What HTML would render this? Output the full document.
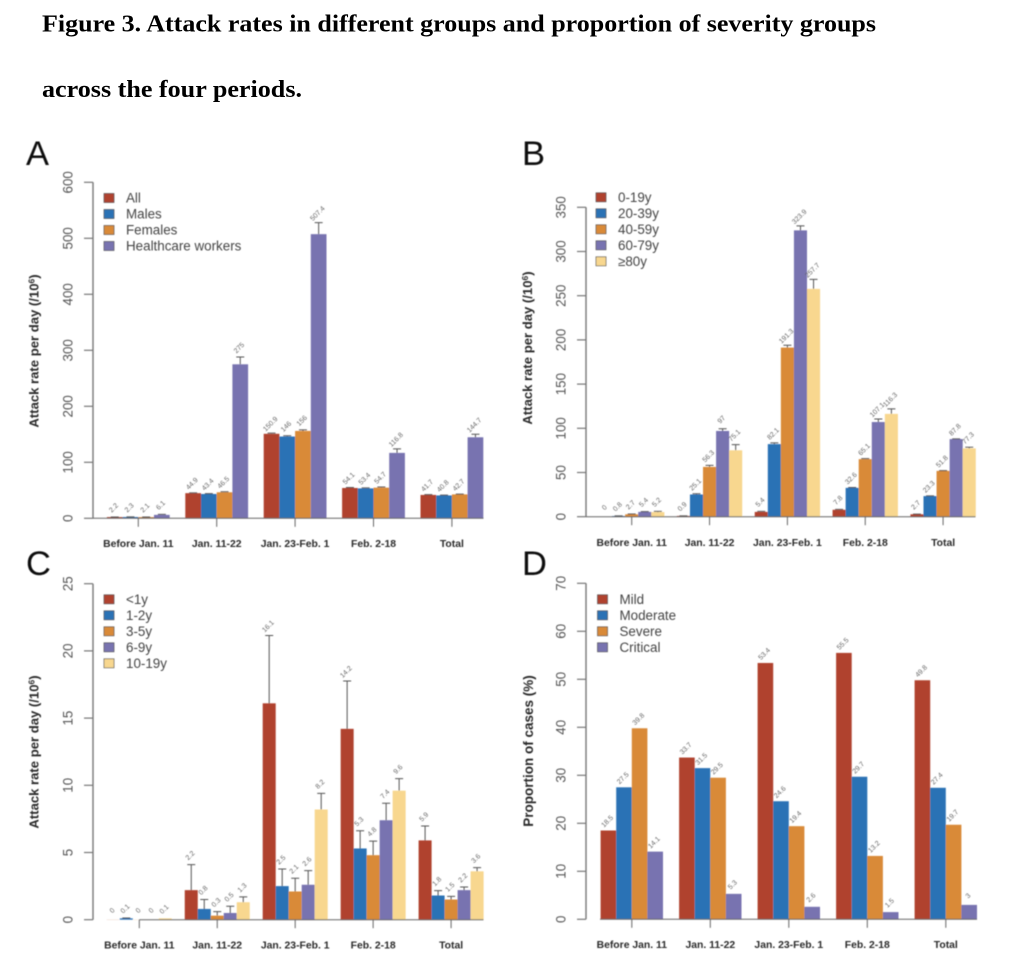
<!DOCTYPE html>
<html lang="en">
<head>
<meta charset="utf-8">
<title>Figure 3. Attack rates</title>
<style>
html,body{margin:0;padding:0;background:#fff;}
body{width:1024px;height:974px;overflow:hidden;}
svg{display:block;font-family:"Liberation Sans",sans-serif;}
.title{font-family:"Liberation Serif",serif;font-weight:bold;font-size:24.5px;fill:#000;}
</style>
</head>
<body>
<svg id="figure" xmlns="http://www.w3.org/2000/svg" width="1024" height="974" viewBox="0 0 1024 974">
  <defs><filter id="soft" x="-5%" y="-5%" width="110%" height="110%"><feGaussianBlur stdDeviation="0.45"/></filter></defs>
  <rect width="1024" height="974" fill="#fff"/>
  <text class="title" x="42" y="31.5" textLength="834" lengthAdjust="spacingAndGlyphs">Figure 3. Attack rates in different groups and proportion of severity groups</text>
  <text class="title" x="42" y="97" textLength="260" lengthAdjust="spacingAndGlyphs">across the four periods.</text>
  <g id="charts" filter="url(#soft)"></g>
</svg>
<script>
const categories = ["Before Jan. 11", "Jan. 11-22", "Jan. 23-Feb. 1", "Feb. 2-18", "Total"];

const legendA = ["All", "Males", "Females", "Healthcare workers"];
const ticksA = [0, 100, 200, 300, 400, 500, 600];
const aAll = [2.2, 44.9, 150.9, 54.1, 41.7];
const aMales = [2.3, 43.4, 146, 53.4, 40.8];
const aFemales = [2.1, 46.5, 156, 54.7, 42.7];
const aWorkers = [6.1, 275, 507.4, 116.8, 144.7];
const aAllUpper = [2.4, 45.5, 152, 55, 42.2];
const aMalesUpper = [2.5, 44, 147.5, 54.3, 41.3];
const aFemalesUpper = [2.3, 47.5, 158, 55.8, 43.2];
const aWorkersUpper = [7, 288, 528, 124, 150];

const legendB = ["0-19y", "20-39y", "40-59y", "60-79y", "≥80y"];
const ticksB = [0, 50, 100, 150, 200, 250, 300, 350];
const b0to19 = [0, 0.9, 5.4, 7.8, 2.7];
const b20to39 = [0.8, 25.1, 82.1, 32.6, 23.3];
const b40to59 = [2.7, 56.3, 191.3, 65.1, 51.8];
const b60to79 = [5.4, 97, 323.9, 107.1, 87.8];
const b80plus = [5.2, 75.1, 257.7, 116.3, 77.3];
const b0to19Upper = [0, 1, 6, 8.3, 2.9];
const b20to39Upper = [0.9, 25.9, 83.5, 33, 23.6];
const b40to59Upper = [3, 58, 194, 65.7, 52.1];
const b60to79Upper = [5.8, 99.5, 329, 110.5, 88];
const b80plusUpper = [6, 81.5, 268.5, 122, 78.5];

const legendC = ["<1y", "1-2y", "3-5y", "6-9y", "10-19y"];
const ticksC = [0, 5, 10, 15, 20, 25];
const cUnder1 = [0, 2.2, 16.1, 14.2, 5.9];
const c1to2 = [0.1, 0.8, 2.5, 5.3, 1.8];
const c3to5 = [0, 0.3, 2.1, 4.8, 1.5];
const c6to9 = [0, 0.5, 2.6, 7.4, 2.2];
const c10to19 = [0.1, 1.3, 8.2, 9.6, 3.6];
const cUnder1Upper = [0, 4.1, 21.15, 17.76, 6.97];
const c1to2Upper = [0.13, 1.5, 3.77, 6.62, 2.16];
const c3to5Upper = [0, 0.6, 3.08, 5.85, 1.74];
const c6to9Upper = [0, 1, 3.65, 8.66, 2.43];
const c10to19Upper = [0.1, 1.7, 9.4, 10.5, 3.87];

const legendD = ["Mild", "Moderate", "Severe", "Critical"];
const ticksD = [0, 10, 20, 30, 40, 50, 60, 70];
const dMild = [18.5, 33.7, 53.4, 55.5, 49.8];
const dModerate = [27.5, 31.5, 24.6, 29.7, 27.4];
const dSevere = [39.8, 29.5, 19.4, 13.2, 19.7];
const dCritical = [14.1, 5.3, 2.6, 1.5, 3];

const palette = ["#b0422f", "#2a72b5", "#d98a38", "#7873b0", "#f8d78f"];
const NS = "http://www.w3.org/2000/svg";
const root = document.getElementById("charts");

function add(parent, tag, attrs, text) {
  const el = document.createElementNS(NS, tag);
  for (const k in attrs) el.setAttribute(k, attrs[k]);
  if (text !== undefined) el.textContent = text;
  parent.appendChild(el);
  return el;
}

function drawPanel(p) {
  const g = add(root, "g", {});
  
  

  const yMax = p.ticks[p.ticks.length - 1];
  const yScale = v => p.y0 - (v / yMax) * (p.y0 - p.yTop);
  const xCenter = i => p.x0 + i * p.step;
  const n = p.series.length;
  const xBar = (i, s) => xCenter(i) - n * p.barW / 2 + s * p.barW;

  const letter = add(g, "text", {x: p.letterX, y: p.letterY, "font-size": 34.5, fill: "#111"}, p.id);
  
  

  // bars, whiskers, printed values
  p.series.forEach((vals, s) => {
    vals.forEach((v, i) => {
      const top = yScale(v);
      const bar = add(g, "rect", {x: xBar(i, s), y: top, width: p.barW, height: Math.max(p.y0 - top, 0.1), fill: palette[s]});
      
      
      let labelTop = top;
      const bx = xBar(i, s) + p.barW / 2;
      if (p.upper && p.upper[s][i] > v) {
        const e = yScale(p.upper[s][i]);
        labelTop = e;
        const whisker = add(g, "path", {d: "M" + bx + " " + top + "V" + e + "M" + (bx - 4) + " " + e + "H" + (bx + 4), stroke: "#555", "stroke-width": 1, fill: "none"});
        
        
      }
      const cx = bx - 1, cy = labelTop - 9;
      const lab = add(g, "text", {x: cx, y: cy + 2, "font-size": 7, fill: "#666", "text-anchor": "middle", transform: "rotate(-45 " + cx + " " + cy + ")"}, String(v));
      
      
    });
  });

  // y axis
  const yAxis = add(g, "line", {x1: p.axisX, x2: p.axisX, y1: p.yTop, y2: p.y0, stroke: "#777", "stroke-width": 1.4});
  
  
  p.ticks.forEach(t => {
    const y = yScale(t);
    const tick = add(g, "line", {x1: p.axisX - 9, x2: p.axisX, y1: y, y2: y, stroke: "#777", "stroke-width": 1.2});
    
    
    const bx = p.axisX - 20.5;
    const lab = add(g, "text", {x: bx, y: y, "font-size": 13.4, fill: "#555", "text-anchor": "middle", transform: "rotate(-90 " + bx + " " + y + ")"}, String(t));
    
    
  });

  // x axis
  const xAxis = add(g, "line", {x1: p.xLineStart, x2: p.xLineEnd, y1: p.y0, y2: p.y0, stroke: "#666", "stroke-width": 1});
  
  
  categories.forEach((c, i) => {
    const x = xCenter(i);
    const tick = add(g, "line", {x1: x, x2: x, y1: p.y0, y2: p.y0 + 8.5, stroke: "#666", "stroke-width": 1});
    
    
    const lab = add(g, "text", {x: x, y: p.xLabelY, "font-size": 10.4, "font-weight": "bold", fill: "#2b2b2b", "text-anchor": "middle"}, c);
    
    
  });

  // y title
  const title = add(g, "text", {x: p.titleX, y: p.titleY, "font-size": p.titleSize, "font-weight": "bold", fill: "#2b2b2b", "text-anchor": "middle", transform: "rotate(-90 " + p.titleX + " " + p.titleY + ")"});
  
  
  add(title, "tspan", {}, p.yTitle);
  if (p.sup) {
    add(title, "tspan", {dy: -4, "font-size": 8.5}, "6");
    add(title, "tspan", {dy: 4}, ")");
  }

  // legend
  p.legend.forEach((name, s) => {
    const y = p.legendY + s * 16;
    const swatch = add(g, "rect", {x: p.legendX, y: y - 4.5, width: 10, height: 9, fill: palette[s], stroke: "#555", "stroke-width": 0.7});
    
    
    const lab = add(g, "text", {x: p.legendX + 22, y: y + 4.5, "font-size": 13.4, fill: "#444"}, name);
    
    
  });
}

drawPanel({id: "A", ticks: ticksA, legend: legendA,
  series: [aAll, aMales, aFemales, aWorkers],
  upper: [aAllUpper, aMalesUpper, aFemalesUpper, aWorkersUpper],
  axisX: 93, y0: 518.3, yTop: 182.3, x0: 138.3, step: 78.4, barW: 15.7,
  xLineStart: 93, xLineEnd: 483.5, xLabelY: 547,
  letterX: 26, letterY: 165, titleX: 38.5, titleY: 351, titleSize: 13.1, yTitle: "Attack rate per day (/10", sup: true,
  legendX: 104, legendY: 198});

drawPanel({id: "B", ticks: ticksB, legend: legendB,
  series: [b0to19, b20to39, b40to59, b60to79, b80plus],
  upper: [b0to19Upper, b20to39Upper, b40to59Upper, b60to79Upper, b80plusUpper],
  axisX: 586, y0: 516.7, yTop: 207.3, x0: 631.7, step: 77.85, barW: 13.07,
  xLineStart: 586, xLineEnd: 975.5, xLabelY: 546,
  letterX: 522, letterY: 165, titleX: 532, titleY: 348, titleSize: 13.1, yTitle: "Attack rate per day (/10", sup: true,
  legendX: 596, legendY: 197.3});

drawPanel({id: "C", ticks: ticksC, legend: legendC,
  series: [cUnder1, c1to2, c3to5, c6to9, c10to19],
  upper: [cUnder1Upper, c1to2Upper, c3to5Upper, c6to9Upper, c10to19Upper],
  axisX: 93, y0: 919.7, yTop: 583.7, x0: 139.3, step: 77.95, barW: 13,
  xLineStart: 139.3, xLineEnd: 483.5, xLabelY: 948.5,
  letterX: 26, letterY: 575, titleX: 38.5, titleY: 752, titleSize: 13.1, yTitle: "Attack rate per day (/10", sup: true,
  legendX: 104, legendY: 599.3});

drawPanel({id: "D", ticks: ticksD, legend: legendD,
  series: [dMild, dModerate, dSevere, dCritical],
  upper: null,
  axisX: 586, y0: 919.3, yTop: 583.3, x0: 631.8, step: 78.5, barW: 15.6,
  xLineStart: 600, xLineEnd: 977, xLabelY: 948,
  letterX: 522, letterY: 575, titleX: 533, titleY: 751, titleSize: 13.5, yTitle: "Proportion of cases (%)", sup: false,
  legendX: 597.5, legendY: 599.3});
</script>
</body>
</html>
